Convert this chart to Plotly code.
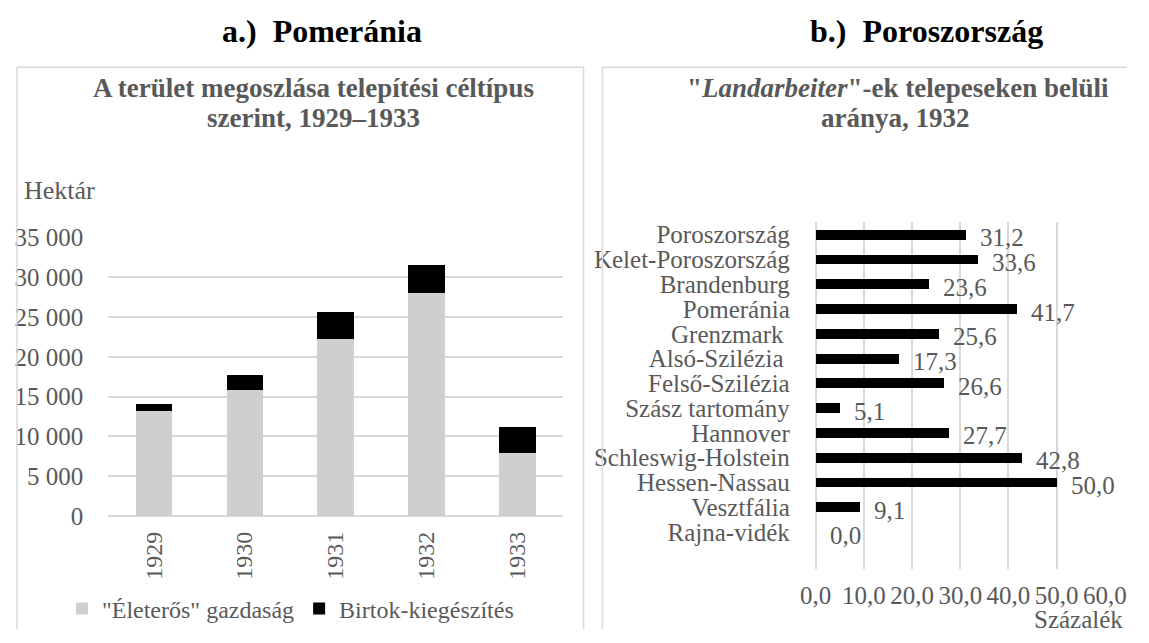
import plotly.graph_objects as go

W, H = 1149, 643

# ---- data: panel a ----
years = ["1929", "1930", "1931", "1932", "1933"]
eleteros = [13200, 15850, 22170, 28000, 7920]
birtok = [830, 1860, 3460, 3500, 3290]

# ---- data: panel b ----
regions = ["Poroszország", "Kelet-Poroszország", "Brandenburg", "Pomeránia",
           "Grenzmark\u00a0", "Alsó-Szilézia\u00a0", "Felső-Szilézia", "Szász tartomány",
           "Hannover", "Schleswig-Holstein", "Hessen-Nassau", "Vesztfália", "Rajna-vidék"]
landarbeiter = [31.2, 33.6, 23.6, 41.7, 25.6, 17.3, 26.6, 5.1, 27.7, 42.8, 50.0, 9.1, 0.0]

FONT = "Liberation Serif"
TXT = "#595959"
GRID = "#d9d9d9"

def px(x):
    return x / W

def py(y):
    return 1 - y / H

fig = go.Figure()

fig.add_trace(go.Bar(x=years, y=eleteros, name='"Életerős" gazdaság',
                     marker=dict(color="#cfcfcf", line=dict(width=0)),
                     xaxis="x", yaxis="y"))
fig.add_trace(go.Bar(x=years, y=birtok, name="Birtok-kiegészítés",
                     marker=dict(color="#000000", line=dict(width=0)),
                     xaxis="x", yaxis="y"))

idx = list(range(len(regions)))
fig.add_trace(go.Bar(x=landarbeiter, y=idx, orientation="h", width=0.4,
                     marker=dict(color="#000000", line=dict(width=0)),
                     showlegend=False, xaxis="x2", yaxis="y2"))

annotations = []
for v, i in zip(landarbeiter, idx):
    annotations.append(dict(x=v, y=i, xref="x2", yref="y2",
                            text=f"{v:.1f}".replace(".", ","),
                            showarrow=False, xanchor="left", yanchor="middle",
                            xshift=12, yshift=-3,
                            font=dict(family=FONT, size=25, color=TXT)))

def note(text, x, y, size=25, color=TXT, xanchor="center", bold=False):
    if bold:
        text = f"<b>{text}</b>"
    annotations.append(dict(x=px(x), y=py(y), xref="paper", yref="paper",
                            text=text, showarrow=False, xanchor=xanchor,
                            yanchor="middle",
                            font=dict(family=FONT, size=size, color=color)))

note("a.)  Pomeránia", 316.5, 18.5, size=32, color="#000000", bold=True)
note("b.)  Poroszország", 941.5, 18.5, size=32, color="#000000", bold=True)
note("A terület megoszlása telepítési céltípus", 308, 78.5, size=27, bold=True)
note("szerint, 1929–1933", 308, 109.5, size=27, bold=True)
note('"<i>Landarbeiter</i>"-ek telepeseken belüli', 912, 78.5, size=27, bold=True)
note("aránya, 1932", 910, 109.5, size=27, bold=True)
note("Hektár", 6, 185.5, size=26, xanchor="left")
note("Százalék", 1147, 633, xanchor="right")

# panel frames, kept inside the paper so nothing overflows the page
def line(x0, y0, x1, y1):
    return dict(type="line", xref="paper", yref="paper",
                x0=px(x0), y0=py(y0), x1=px(x1), y1=py(y1),
                line=dict(color=GRID, width=1.5))

shapes = [
    line(1, 56.7, 587, 56.7), line(1, 56.7, 1, 643), line(587, 56.7, 587, 643),
    line(606.5, 56.7, 1149, 56.7), line(606.5, 56.7, 606.5, 643),
]

tickfont = dict(family=FONT, size=25, color=TXT)

fig.update_layout(
    width=W, height=H,
    margin=dict(l=0, r=0, t=0, b=0),
    paper_bgcolor="white", plot_bgcolor="white",
    separators=", ",
    barmode="stack", bargap=0.6,
    font=dict(family=FONT, size=25, color=TXT),
    xaxis=dict(domain=[px(95.4), px(565.8)], type="category",
               tickangle=-90, ticks="outside", ticklen=5,
               tickcolor="rgba(0,0,0,0)",
               tickfont=dict(family=FONT, size=24, color=TXT),
               showgrid=False, showline=False, anchor="y"),
    yaxis=dict(domain=[py(525.2), py(234.1)], range=[0, 35000], dtick=5000,
               tickformat=",.0f", ticks="outside", ticklen=19,
               tickcolor="rgba(0,0,0,0)", tickfont=tickfont,
               showgrid=True, gridcolor=GRID, gridwidth=1.5,
               zeroline=True, zerolinecolor=GRID, zerolinewidth=1.5,
               showline=False, anchor="x"),
    xaxis2=dict(domain=[px(827.1), px(1126)], range=[0, 60], dtick=10,
                tickformat=".1f", ticks="outside", ticklen=4,
                tickcolor="rgba(0,0,0,0)", tickfont=tickfont,
                showgrid=True, gridcolor=GRID, gridwidth=1.5,
                zeroline=True, zerolinecolor=GRID, zerolinewidth=1.5,
                showline=False, anchor="y2"),
    yaxis2=dict(domain=[py(580.6), py(218.5)], range=[13.5, -0.5],
                tickmode="array", tickvals=idx, ticktext=regions,
                ticks="outside", ticklen=20, tickcolor="rgba(0,0,0,0)",
                tickfont=tickfont, showgrid=False, zeroline=False,
                showline=False, anchor="x2"),
    legend=dict(orientation="h", x=px(47.5), xanchor="left", y=py(622),
                yanchor="middle", font=dict(family=FONT, size=24, color=TXT),
                bgcolor="rgba(0,0,0,0)", traceorder="normal"),
    annotations=annotations,
    shapes=shapes,
)

fig.write_html("out.html", config={"displayModeBar": False},
               post_script="document.body.style.margin='0';"
                           "document.body.style.overflow='hidden';")
